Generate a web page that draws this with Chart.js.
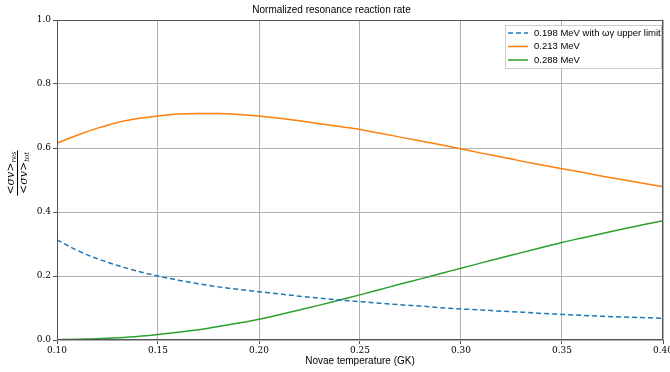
<!DOCTYPE html>
<html>
<head>
<meta charset="utf-8">
<script src="https://cdn.jsdelivr.net/npm/chart.js@4/dist/chart.umd.min.js"></script>
<style>
  html, body { margin: 0; padding: 0; background: #fff; }
  #wrap { width: 670px; height: 372px; }
</style>
</head>
<body>
<div id="wrap"><canvas id="rateChart"></canvas></div>
<script>
// temperature grid (GK)
const temps = [0.10, 0.11, 0.12, 0.13, 0.14, 0.15, 0.16, 0.17, 0.18, 0.19,
               0.20, 0.21, 0.22, 0.23, 0.24, 0.25, 0.26, 0.27, 0.28, 0.29,
               0.30, 0.31, 0.32, 0.33, 0.34, 0.35, 0.36, 0.37, 0.38, 0.39, 0.40];

// normalized rates
const res198 = [0.313, 0.280, 0.254, 0.233, 0.215, 0.200, 0.187, 0.176, 0.166, 0.158,
                0.151, 0.144, 0.137, 0.131, 0.125, 0.120, 0.115, 0.110, 0.106, 0.101,
                0.097, 0.094, 0.090, 0.087, 0.083, 0.080, 0.077, 0.074, 0.072, 0.070, 0.068];
const res213 = [0.615, 0.640, 0.662, 0.680, 0.692, 0.700, 0.706, 0.708, 0.708, 0.705,
                0.700, 0.693, 0.685, 0.676, 0.667, 0.658, 0.646, 0.634, 0.622, 0.610,
                0.597, 0.584, 0.572, 0.559, 0.547, 0.535, 0.524, 0.512, 0.501, 0.490, 0.479];
const res288 = [0.001, 0.002, 0.004, 0.007, 0.011, 0.017, 0.024, 0.032, 0.042, 0.053,
                0.065, 0.079, 0.094, 0.109, 0.125, 0.141, 0.158, 0.175, 0.191, 0.208,
                0.224, 0.241, 0.257, 0.273, 0.289, 0.305, 0.319, 0.333, 0.347, 0.360, 0.373];

const seriesLabels = ["0.198 MeV with \u03c9\u03b3 upper limit", "0.213 MeV", "0.288 MeV"];
const xTicks = [0.10, 0.15, 0.20, 0.25, 0.30, 0.35, 0.40];
const yTicks = [0.0, 0.2, 0.4, 0.6, 0.8, 1.0];

const toPts = ys => temps.map((t, i) => ({ x: t, y: ys[i] }));

const serif = "'DejaVu Serif', 'Liberation Serif', serif";
const sans = "'Liberation Sans', 'DejaVu Sans', sans-serif";

// frame, axis labels and in-plot legend
const extras = {
    id: "extras",
    afterDraw(chart) {
        const c = chart.ctx;
        const a = chart.chartArea;
        c.save();

        c.strokeStyle = "#555";
        c.lineWidth = 1;
        c.strokeRect(a.left + 0.5, a.top + 0.5, a.right - a.left - 1, a.bottom - a.top - 1);

        // x title
        c.fillStyle = "#000";
        c.font = "10px " + sans;
        c.textAlign = "center";
        c.textBaseline = "middle";
        c.fillText("Novae temperature (GK)", (a.left + a.right) / 2, 361);

        // y title as a fraction
        c.translate(17, 173);
        c.rotate(-Math.PI / 2);
        c.font = "italic 11px " + serif;
        c.textBaseline = "alphabetic";
        c.textAlign = "left";
        const base = "<\u03c3v>";
        const w = c.measureText(base).width;
        c.font = "italic 7px " + serif;
        const wNum = w + c.measureText("res").width;
        const wDen = w + c.measureText("tot").width;
        const wMax = Math.max(wNum, wDen);

        c.font = "italic 11px " + serif;
        c.fillText(base, -wNum / 2, -3);
        c.font = "italic 7px " + serif;
        c.fillText("res", -wNum / 2 + w, -1);
        c.font = "italic 11px " + serif;
        c.fillText(base, -wDen / 2, 10);
        c.font = "italic 7px " + serif;
        c.fillText("tot", -wDen / 2 + w, 12);
        c.beginPath();
        c.moveTo(-wMax / 2 - 1, 0.5);
        c.lineTo(wMax / 2 + 1, 0.5);
        c.strokeStyle = "#000";
        c.stroke();
        c.restore();

        // legend
        c.save();
        const bx = 505, by = 25, bw = 156, bh = 43;
        c.fillStyle = "rgba(255,255,255,0.85)";
        c.fillRect(bx, by, bw, bh);
        c.strokeStyle = "#ccc";
        c.lineWidth = 1;
        c.strokeRect(bx + 0.5, by + 0.5, bw, bh);
        c.font = "9.5px " + sans;
        c.textBaseline = "middle";
        chart.data.datasets.forEach((ds, i) => {
            const yy = by + 8 + i * 13.5;
            c.beginPath();
            c.setLineDash(ds.borderDash || []);
            c.strokeStyle = ds.borderColor;
            c.lineWidth = 1.5;
            c.moveTo(bx + 3, yy);
            c.lineTo(bx + 23, yy);
            c.stroke();
            c.setLineDash([]);
            c.fillStyle = "#000";
            c.fillText(ds.label, bx + 29, yy);
        });
        c.restore();
    }
};

const lineStyle = {
    borderWidth: 1.5,
    pointRadius: 0,
    cubicInterpolationMode: "monotone"
};

new Chart(document.getElementById("rateChart"), {
    type: "line",
    data: {
        datasets: [
            { ...lineStyle, label: seriesLabels[0], data: toPts(res198), borderColor: "#1f77b4", borderDash: [5, 3] },
            { ...lineStyle, label: seriesLabels[1], data: toPts(res213), borderColor: "#ff7f0e" },
            { ...lineStyle, label: seriesLabels[2], data: toPts(res288), borderColor: "#2ca02c" }
        ]
    },
    options: {
        responsive: true,
        maintainAspectRatio: false,
        animation: false,
        layout: { padding: { top: 0, right: 7, left: 0, bottom: 0 } },
        plugins: {
            legend: { display: false },
            tooltip: { enabled: false },
            title: {
                display: true,
                text: "Normalized resonance reaction rate",
                color: "#000",
                font: { family: sans, size: 10, weight: "normal" },
                padding: { top: 4, bottom: 4 }
            }
        },
        scales: {
            x: {
                type: "linear",
                min: 0.10,
                max: 0.40,
                afterBuildTicks: s => { s.ticks = xTicks.map(v => ({ value: v })); },
                afterFit: s => { s.height = 32; s.paddingLeft = 0; s.paddingRight = 0; },
                ticks: {
                    color: "#000",
                    font: { family: serif, size: 9 },
                    padding: 1,
                    maxRotation: 0,
                    callback: v => v.toFixed(2)
                },
                grid: { color: "#b0b0b0", tickColor: "#555", tickLength: 4 },
                border: { display: false }
            },
            y: {
                min: 0,
                max: 1,
                afterBuildTicks: s => { s.ticks = yTicks.map(v => ({ value: v })); },
                afterFit: s => { s.width = 57; s.paddingTop = 0; s.paddingBottom = 0; },
                ticks: {
                    color: "#000",
                    font: { family: serif, size: 9 },
                    padding: 2,
                    callback: v => v.toFixed(1)
                },
                grid: { color: "#b0b0b0", tickColor: "#555", tickLength: 4 },
                border: { display: false }
            }
        }
    },
    plugins: [extras]
});
</script>
</body>
</html>
